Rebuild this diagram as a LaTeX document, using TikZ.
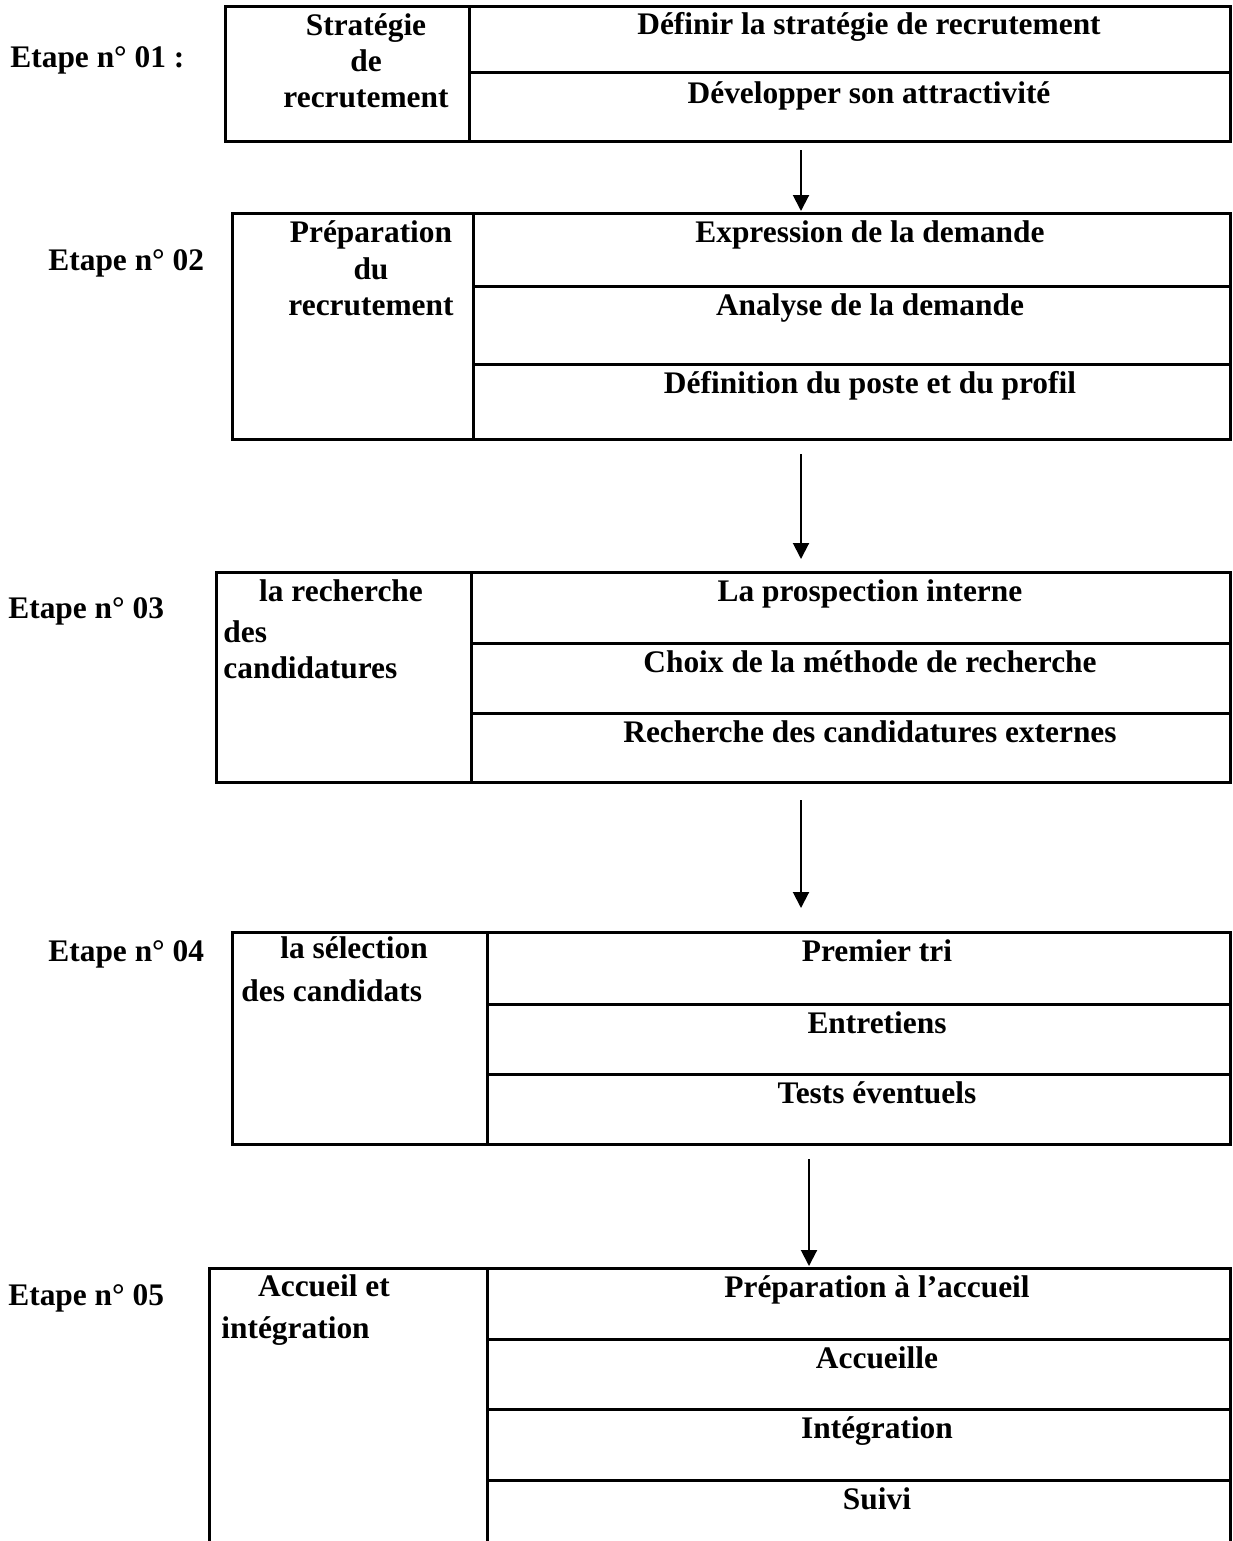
\documentclass[tikz,border=0pt]{standalone}
\usepackage{fontspec}
\setmainfont{Liberation Serif}
\usetikzlibrary{arrows.meta}
\begin{document}
\begin{tikzpicture}[x=0.5pt,y=-0.5pt,
  frame/.style={line width=1.5pt},
  txt/.style={font=\fontsize{15.7}{18}\selectfont\bfseries, inner sep=0pt, anchor=base},
  lft/.style={txt, anchor=base west},
  arr/.style={line width=1pt, -{Triangle[width=8pt,length=8pt]}}]
\useasboundingbox (0,0) rectangle (1232,1541);
\clip (0,0) rectangle (1232,1541);

% ---------- Step 1
\node[lft] (e1) at (10,68) {Etape n° 01 :};
\draw[frame] (225,7) rectangle (1230,141);
\draw[frame] (469,7) -- (469,141);
\draw[frame] (469,73) -- (1230,73);
\node[txt] (s1a) at (366,36) {Stratégie};
\node[txt] (s1b) at (366,72) {de};
\node[txt] (s1c) at (366,108) {recrutement};
\node[txt] (r1a) at (869,35) {Définir la stratégie de recrutement};
\node[txt] (r1b) at (869,104) {Développer son attractivité};

% ---------- Step 2
\node[lft] (e2) at (48,270) {Etape n° 02};
\draw[frame] (232,213) rectangle (1230,439);
\draw[frame] (473,213) -- (473,439);
\draw[frame] (473,286) -- (1230,286);
\draw[frame] (473,364) -- (1230,364);
\node[txt] (s2a) at (371,242) {Préparation};
\node[txt] (s2b) at (371,279) {du};
\node[txt] (s2c) at (371,315) {recrutement};
\node[txt] (r2a) at (870,242) {Expression de la demande};
\node[txt] (r2b) at (870,315) {Analyse de la demande};
\node[txt] (r2c) at (870,393) {Définition du poste et du profil};

% ---------- Step 3
\node[lft] (e3) at (8,618) {Etape n° 03};
\draw[frame] (216,572) rectangle (1230,782);
\draw[frame] (471,572) -- (471,782);
\draw[frame] (471,643) -- (1230,643);
\draw[frame] (471,713) -- (1230,713);
\node[txt] (s3a) at (341,601) {la recherche};
\node[lft] (s3b) at (223,642) {des};
\node[lft] (s3c) at (223,678) {candidatures};
\node[txt] (r3a) at (870,601) {La prospection interne};
\node[txt] (r3b) at (870,672) {Choix de la méthode de recherche};
\node[txt] (r3c) at (870,742) {Recherche des candidatures externes};

% ---------- Step 4
\node[lft] (e4) at (48,961) {Etape n° 04};
\draw[frame] (232,932) rectangle (1230,1144);
\draw[frame] (487,932) -- (487,1144);
\draw[frame] (487,1004) -- (1230,1004);
\draw[frame] (487,1074) -- (1230,1074);
\node[txt] (s4a) at (354,958) {la sélection};
\node[lft] (s4b) at (241,1001) {des candidats};
\node[txt] (r4a) at (877,961) {Premier tri};
\node[txt] (r4b) at (877,1033) {Entretiens};
\node[txt] (r4c) at (877,1103) {Tests éventuels};

% ---------- Step 5
\node[lft] (e5) at (8,1305) {Etape n° 05};
\draw[frame] (209,1560) -- (209,1268) -- (1230,1268) -- (1230,1560);
\draw[frame] (487,1268) -- (487,1560);
\draw[frame] (487,1339) -- (1230,1339);
\draw[frame] (487,1409) -- (1230,1409);
\draw[frame] (487,1480) -- (1230,1480);
\node[txt] (s5a) at (324,1296) {Accueil et};
\node[lft] (s5b) at (221,1338) {intégration};
\node[txt] (r5a) at (877,1297) {Préparation à l’accueil};
\node[txt] (r5b) at (877,1368) {Accueille};
\node[txt] (r5c) at (877,1438) {Intégration};
\node[txt] (r5d) at (877,1509) {Suivi};

% ---------- Arrows
\coordinate (a1s) at (801,150);  \coordinate (a1e) at (801,211);
\coordinate (a2s) at (801,454);  \coordinate (a2e) at (801,559);
\coordinate (a3s) at (801,800);  \coordinate (a3e) at (801,908);
\coordinate (a4s) at (809,1159); \coordinate (a4e) at (809,1266);
\draw[arr] (a1s) -- (a1e);
\draw[arr] (a2s) -- (a2e);
\draw[arr] (a3s) -- (a3e);
\draw[arr] (a4s) -- (a4e);
\end{tikzpicture}
\end{document}
